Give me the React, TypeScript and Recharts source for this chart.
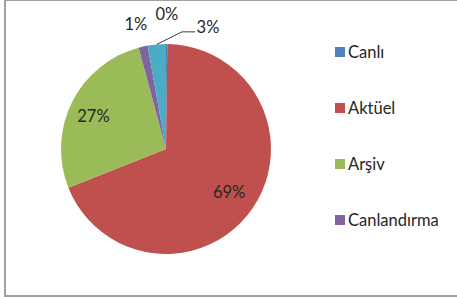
import React from "react";
import { PieChart, Pie, Cell, Legend } from "recharts";

const categories = ["Canlı", "Aktüel", "Arşiv", "Canlandırma", ""];
const values = [0.2, 68.8, 26.8, 1.4, 2.8];
const colors = ["#4F81BD", "#C0504D", "#9BBB59", "#8064A2", "#4BACC6"];
const legendCount = 4;

// label placement: radial factor and angle offset (deg, clockwise), leader line flag
const labelPlacement = [
  { r: 1.29, off: 0, leader: false },
  { r: 0.73, off: 0, leader: false },
  { r: 0.76, off: -2, leader: false },
  { r: 1.22, off: -1, leader: false },
  { r: 1.23, off: 24, leader: true },
];

const data = categories.map((name, i) => ({ name, value: values[i] }));
const total = values.reduce((a, b) => a + b, 0);

const FONT = "Lato, 'Open Sans', sans-serif";
const RAD = Math.PI / 180;

const renderLabel = (props: any) => {
  const { cx, cy, outerRadius, midAngle, index, value } = props;
  const p = labelPlacement[index];
  const ang = midAngle - p.off;
  const rr = outerRadius * p.r;
  const x = cx + rr * Math.cos(-ang * RAD);
  const y = cy + rr * Math.sin(-ang * RAD);
  const pct = Math.round((value / total) * 100) + "%";
  const ex = cx + outerRadius * Math.cos(-midAngle * RAD);
  const ey = cy + outerRadius * Math.sin(-midAngle * RAD);
  return (
    <g key={"lbl" + index}>
      {p.leader && (
        <polyline
          points={`${ex},${ey} ${x - 26},${y + 5} ${x - 13},${y + 5}`}
          fill="none"
          stroke="#404040"
          strokeWidth={1}
        />
      )}
      <text
        x={x}
        y={y}
        textAnchor="middle"
        dominantBaseline="central"
        fontFamily={FONT}
        fontSize={16.5}
        fill="#262626"
      >
        {pct}
      </text>
    </g>
  );
};

const renderLegend = () => {
  const items = categories.slice(0, legendCount);
  return (
    <div style={{ fontFamily: FONT, fontSize: 16.5, color: "#262626" }}>
      {items.map((name, i) => (
        <div
          key={i}
          style={{ height: 56, display: "flex", alignItems: "center" }}
        >
          <span
            style={{
              display: "inline-block",
              width: 10,
              height: 10,
              background: colors[i],
              marginRight: 3,
            }}
          />
          <span>{name}</span>
        </div>
      ))}
    </div>
  );
};

export default function App() {
  return (
    <div
      style={{
        position: "absolute",
        left: 0,
        top: 0,
        width: 457,
        height: 299,
        background: "#fff",
      }}
    >
      <div
        style={{
          position: "absolute",
          left: 4,
          top: 0,
          width: 460,
          height: 294,
          borderLeft: "2px solid #a0a0a0",
          borderTop: "1px solid #a0a0a0",
          borderBottom: "2px solid #a0a0a0",
        }}
      />
      <PieChart
        width={457}
        height={299}
        margin={{ top: 0, right: 0, bottom: 0, left: 0 }}
        style={{ position: "absolute", left: 0, top: 0 }}
      >
        <Pie
          data={data}
          dataKey="value"
          nameKey="name"
          cx={166}
          cy={149}
          outerRadius={105}
          startAngle={90}
          endAngle={-270}
          stroke="none"
          isAnimationActive={false}
          label={renderLabel}
          labelLine={false}
        >
          {data.map((d, i) => (
            <Cell key={i} fill={colors[i]} />
          ))}
        </Pie>
        <Legend
          layout="vertical"
          content={renderLegend}
          wrapperStyle={{ position: "absolute", left: 335, top: 24, width: 120 }}
        />
      </PieChart>
    </div>
  );
}
